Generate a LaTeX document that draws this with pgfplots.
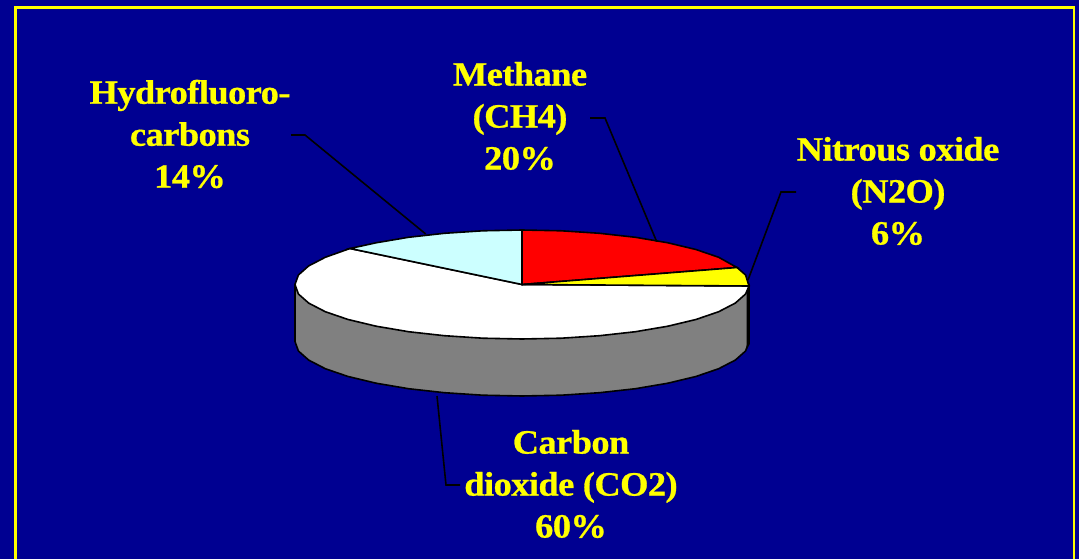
\documentclass[border=0pt]{standalone}
\usepackage{pgfplots}
\usepackage{fontspec}
\setmainfont{Liberation Serif}[BoldFeatures={FakeBold=0.8,FakeStretch=1.07,LetterSpace=-1.6}]
\pgfplotsset{compat=1.18}
\definecolor{bgblue}{RGB}{0,0,145}
\definecolor{lightcy}{RGB}{204,255,255}
\definecolor{sidegray}{RGB}{128,128,128}
\definecolor{ylw}{RGB}{255,255,0}
\tikzset{lab/.style={font=\fontsize{25.5}{31.5}\selectfont\bfseries, text=ylw, align=center, inner sep=0pt}}
\begin{document}
\begin{tikzpicture}
\begin{axis}[
  scale only axis, width=809.25pt, height=419.25pt,
  xmin=0, xmax=1079, ymin=0, ymax=559, y dir=reverse,
  ticks=none, axis line style={draw=none},
  axis background/.style={fill=bgblue},
  clip=true,
]
% frame (bottom edge lies beyond the picture)
\addplot[draw=ylw, line width=2pt] coordinates {(15.3,570) (15.3,7.5) (1074,7.5) (1074,570)};
% side of the disc
\addplot[fill=sidegray, draw=black, line width=1.2pt] coordinates {
 (749,284.5) (749,341.5) (745.6,351) (735.3,360.1) (718.6,368.75) (695.9,376.5) (667.9,383.2) (635.5,388.7) (599.6,392.7) (561.4,395.2) (522,396)
 (482.6,395.2) (444.4,392.7) (408.5,388.7) (376.1,383.2) (348.1,376.5) (325.4,368.75) (308.7,360.1) (298.4,351) (295,341.5) (295,284.5)} -- cycle;
\addplot[fill=black, draw=none] coordinates {(746.5,290) (749.8,285) (749.8,344) (746.5,350)} -- cycle;
% Carbon dioxide 60%
\addplot[fill=white, draw=black, line width=1.2pt] coordinates {
 (522,284.5) (749,286) (745.6,294) (735.3,303.1) (718.6,311.75) (695.9,319.5) (667.9,326.2) (635.5,331.7) (599.6,335.7) (561.4,338.2) (522,339)
 (482.6,338.2) (444.4,335.7) (408.5,331.7) (376.1,326.2) (348.1,319.5) (325.4,311.75) (308.7,303.1) (298.4,294) (295,284.5) (298.4,275) (308.7,265.9) (325.4,257.25) (350,248.5)} -- cycle;
% Hydrofluorocarbons 14%
\addplot[fill=lightcy, draw=black, line width=1.2pt] coordinates {
 (522,284.5) (350,248.5) (376.1,242.8) (408.5,237.3) (444.4,233.3) (482.6,230.8) (522,230)} -- cycle;
% Methane 20%
\addplot[fill=red, draw=black, line width=1.2pt] coordinates {
 (522,284.5) (522,230) (561.4,230.8) (599.6,233.3) (635.5,237.3) (667.9,242.8) (695.9,249.5) (718.6,257.25) (737,267.5)} -- cycle;
% Nitrous oxide 6%
\addplot[fill=ylw, draw=black, line width=1.2pt] coordinates {
 (522,284.5) (737,267.5) (745.6,275) (749,286)} -- cycle;
% leader lines
\addplot[draw=black, line width=1.2pt] coordinates {(291,135) (305,135) (425.7,234)};
\addplot[draw=black, line width=1.2pt] coordinates {(590,118) (605,118) (656.7,241.7)};
\addplot[draw=black, line width=1.2pt] coordinates {(796,192) (781,192) (748,280)};
\addplot[draw=black, line width=1.2pt] coordinates {(437,396) (446,485) (460,485)};
% labels
\node[lab] at (axis cs:190,134) {Hydrofluoro-\\carbons\\14\%};
\node[lab] at (axis cs:520,116) {Methane\\(CH4)\\20\%};
\node[lab] at (axis cs:898,191) {Nitrous oxide\\(N2O)\\6\%};
\node[lab] at (axis cs:571,484) {Carbon\\dioxide (CO2)\\60\%};
\end{axis}
\end{tikzpicture}
\end{document}
